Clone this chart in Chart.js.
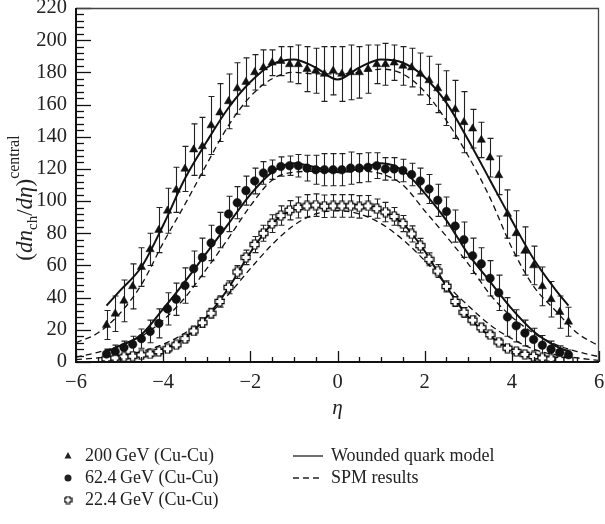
<!DOCTYPE html>
<html>
<head>
<meta charset="utf-8">
<script src="https://cdn.jsdelivr.net/npm/chart.js@4.4.0/dist/chart.umd.min.js"></script>
<style>
html, body { margin: 0; padding: 0; background: #fff; }
</style>
</head>
<body>
<canvas id="chart" width="605" height="524"></canvas>
<script>
// measured points (eta bins of 0.2)
const etaPoints = [-5.3, -5.1, -4.9, -4.7, -4.5, -4.3, -4.1, -3.9, -3.7, -3.5, -3.3, -3.1, -2.9, -2.7, -2.5, -2.3, -2.1, -1.9, -1.7, -1.5, -1.3, -1.1, -0.9, -0.7, -0.5, -0.3, -0.1,
                   0.1, 0.3, 0.5, 0.7, 0.9, 1.1, 1.3, 1.5, 1.7, 1.9, 2.1, 2.3, 2.5, 2.7, 2.9, 3.1, 3.3, 3.5, 3.7, 3.9, 4.1, 4.3, 4.5, 4.7, 4.9, 5.1, 5.3];

const cu200 = [23, 30, 38, 47, 59, 70, 82, 94, 107, 120, 132, 134, 147, 155, 162, 170, 174, 180, 183, 186, 187, 185, 185, 182, 181, 179, 181,
               179, 180, 180, 182, 185, 185, 186, 184, 183, 179, 175, 170, 164, 157, 149, 145, 138, 127, 116, 92, 80, 69, 60, 47, 39, 31, 25];
const err200 = [9, 11, 13, 14, 12, 10, 14, 14, 14, 14, 16, 18, 18, 18, 17, 16, 15, 11, 11, 8, 9, 11, 12, 14, 14, 17, 15,
                17, 17, 16, 15, 12, 13, 11, 12, 12, 13, 15, 15, 17, 18, 19, 12, 11, 12, 12, 15, 14, 15, 12, 12, 11, 10, 9];

const cu624 = [5, 6.5, 9, 11, 14.5, 19, 24, 33, 39, 47.5, 58, 65, 74, 82, 92, 99, 106.5, 112.5, 117.5, 119.5, 121.5, 122, 122, 120.5, 119.5, 119.5, 119.5,
               119.5, 120.5, 120.5, 121, 122, 120, 120, 119, 116.5, 112.5, 107.5, 100.5, 93.5, 84.5, 76, 66, 61, 52, 43, 28, 22.5, 18, 14, 10.5, 8, 6, 4.5];
const err624 = [3, 4, 4, 5, 6, 7, 9, 10, 10, 11, 11, 12, 11, 11, 11, 10, 9, 8, 7, 6, 6, 6, 7, 8, 9, 10, 10,
                10, 10, 9, 9, 8, 7, 7, 7, 7, 8, 9, 10, 9, 10, 11, 11, 10, 11, 11, 12, 10, 8, 7, 6, 5, 4, 3];

const cu224 = [2, 2.5, 3.2, 3.6, 4.4, 5, 6.5, 8.2, 10.7, 14.5, 19.3, 24.4, 30.3, 37.6, 46.4, 56, 65, 73, 80, 86, 91, 94.3, 96, 97, 97.5, 96.8, 97,
               97, 97, 96.4, 97, 95.3, 93.2, 90.5, 86, 79.6, 72.3, 63.8, 56.5, 47, 37.6, 30.9, 26, 21.3, 17, 12.4, 8.6, 6.5, 4.7, 3.4, 2.5, 1.9, 1.5, 1.4];
const err224 = [1, 1, 1, 1, 1.5, 1.5, 1.5, 2, 2, 2.5, 2.5, 3, 3, 3.5, 4, 4, 4.5, 5, 5, 5.5, 6, 6, 6.5, 7, 7, 7, 7,
                7, 7, 7, 6.5, 6, 6, 5.5, 5, 5, 4.5, 4, 4, 3.5, 3, 3, 2.5, 2.5, 2, 2, 1.5, 1.5, 1.5, 1, 1, 1, 1, 1];

// wounded quark model curves
const etaWqm = [-5.3, -5, -4.5, -4, -3.5, -3, -2.5, -2, -1.5, -1, -0.5, 0, 0.5, 1, 1.5, 2, 2.5, 3, 3.5, 4, 4.5, 5, 5.3];
const wqm200 = [35, 44, 59, 85, 114, 137, 158, 174, 185, 188, 183, 175.5, 183, 188, 186, 177, 161, 138, 113, 88, 64, 45, 35];
const wqm624 = [6.5, 10, 17, 33, 50, 68, 86, 104, 118, 123.5, 121, 118, 120, 123.5, 119, 105, 88, 67, 50, 33, 19, 10, 6.5];
const wqm224 = [1.5, 3, 4.5, 8, 15, 28, 46, 68, 86, 95, 97.5, 97, 97.5, 94, 86, 69, 47, 28, 16, 8, 4, 2, 1.5];

// SPM curves
const etaSpm = [-6, -5.5, -5, -4.5, -4, -3.5, -3, -2.5, -2, -1.5, -1, -0.5, 0, 0.5, 1, 1.5, 2, 2.5, 3, 3.5, 4, 4.5, 5, 5.5, 6];
const spm200 = [12, 18, 30, 48, 74, 98, 123, 147, 165, 176, 180, 179, 179, 180, 182, 179, 168, 150, 128, 102, 71, 47, 32, 18, 10];
const spm624 = [3, 6, 10, 16, 26, 40, 58, 77, 97, 113, 118, 118.5, 118, 118.5, 117, 110, 94, 78, 61, 42, 28, 18, 11, 6.5, 3.3];
const spm224 = [1.5, 2.5, 4, 6.5, 11, 18, 28, 42, 58, 73, 85, 92, 94, 92, 86, 76, 63, 48, 35, 23, 14.5, 8, 4.5, 2.5, 1];

const xTicks = [-6, -4, -2, 0, 2, 4, 6];
const yTicks = [0, 20, 40, 60, 80, 100, 120, 140, 160, 180, 200, 220];

const legendMarkers = ['200\u2009GeV (Cu-Cu)', '62.4\u2009GeV (Cu-Cu)', '22.4\u2009GeV (Cu-Cu)'];
const legendLines = ['Wounded quark model', 'SPM results'];

const SERIF = "'Liberation Serif', 'DejaVu Serif', serif";

function pts(xs, ys) {
    return xs.map((x, i) => ({ x: x, y: ys[i] }));
}

// open cross marker
function makeCross(size) {
    const c = document.createElement('canvas');
    c.width = size; c.height = size;
    const g = c.getContext('2d');
    const m = size / 2, a = size * 0.2, b = size / 2 - 1;
    g.beginPath();
    g.moveTo(m - a, m - b); g.lineTo(m + a, m - b); g.lineTo(m + a, m - a);
    g.lineTo(m + b, m - a); g.lineTo(m + b, m + a); g.lineTo(m + a, m + a);
    g.lineTo(m + a, m + b); g.lineTo(m - a, m + b); g.lineTo(m - a, m + a);
    g.lineTo(m - b, m + a); g.lineTo(m - b, m - a); g.lineTo(m - a, m - a);
    g.closePath();
    g.fillStyle = '#fff';
    g.fill();
    g.lineWidth = 1.2;
    g.strokeStyle = '#000';
    g.stroke();
    return c;
}
const crossBig = makeCross(11);
const crossSmall = makeCross(9);

const errorBars = {
    id: 'errorBars',
    beforeDatasetsDraw(chart) {
        const { ctx, chartArea: a, scales: { x, y } } = chart;
        ctx.save();
        ctx.beginPath();
        ctx.rect(a.left, a.top, a.width, a.height);
        ctx.clip();
        ctx.strokeStyle = '#222';
        ctx.lineWidth = 1.1;
        [[cu200, err200], [cu624, err624], [cu224, err224]].forEach(([vals, errs]) => {
            etaPoints.forEach((e, i) => {
                const px = Math.round(x.getPixelForValue(e)) + 0.5;
                const top = y.getPixelForValue(vals[i] + errs[i]);
                const bot = y.getPixelForValue(Math.max(vals[i] - errs[i], 0));
                ctx.beginPath();
                ctx.moveTo(px, top); ctx.lineTo(px, bot);
                ctx.moveTo(px - 3, top); ctx.lineTo(px + 3, top);
                ctx.moveTo(px - 3, bot); ctx.lineTo(px + 3, bot);
                ctx.stroke();
            });
        });
        ctx.restore();
    }
};

const frameAndTicks = {
    id: 'frameAndTicks',
    afterDraw(chart) {
        const { ctx, chartArea: a, scales: { x, y } } = chart;
        ctx.save();
        ctx.strokeStyle = '#111';
        ctx.lineWidth = 1.3;
        for (let v = -6; v <= 6.001; v += 0.5) {
            const px = Math.round(x.getPixelForValue(v)) + 0.5;
            const len = Math.abs(v % 2) < 1e-6 ? 11 : 5;
            ctx.beginPath();
            ctx.moveTo(px, a.bottom); ctx.lineTo(px, a.bottom - len);
            ctx.stroke();
        }
        for (let v = 0; v <= 220; v += 4) {
            const py = Math.round(y.getPixelForValue(v)) + 0.5;
            const len = v % 20 === 0 ? 15 : 8;
            ctx.beginPath();
            ctx.moveTo(a.left, py); ctx.lineTo(a.left + len, py);
            ctx.stroke();
        }
        // box
        ctx.lineWidth = 1.3;
        ctx.strokeStyle = '#444';
        ctx.beginPath();
        ctx.moveTo(a.left, a.top + 0.5); ctx.lineTo(a.right - 0.5, a.top + 0.5); ctx.lineTo(a.right - 0.5, a.bottom);
        ctx.stroke();
        ctx.lineWidth = 2;
        ctx.strokeStyle = '#111';
        ctx.beginPath();
        ctx.moveTo(a.left, a.top); ctx.lineTo(a.left, a.bottom); ctx.lineTo(a.right, a.bottom);
        ctx.stroke();

        // axis titles
        ctx.fillStyle = '#222';
        ctx.textBaseline = 'middle';
        ctx.textAlign = 'center';
        ctx.font = 'italic 21px ' + SERIF;
        ctx.fillText('\u03b7', (a.left + a.right) / 2, 408);

        const parts = [
            ['(', '23px ', 0], ['dn', 'italic 23px ', 0], ['ch', '15px ', 5],
            ['/', '23px ', 0], ['d\u03b7', 'italic 23px ', 0], [')', '23px ', 0],
            ['central', '16px ', -13]
        ];
        let total = 0;
        parts.forEach(p => { ctx.font = p[1] + SERIF; total += ctx.measureText(p[0]).width; });
        ctx.translate(32, 198);
        ctx.rotate(-Math.PI / 2);
        ctx.textAlign = 'left';
        ctx.textBaseline = 'alphabetic';
        let cx = -total / 2;
        parts.forEach(p => {
            ctx.font = p[1] + SERIF;
            ctx.fillText(p[0], cx, p[2]);
            cx += ctx.measureText(p[0]).width;
        });
        ctx.restore();

        // legend
        ctx.save();
        ctx.fillStyle = '#222';
        ctx.strokeStyle = '#222';
        ctx.font = '18px ' + SERIF;
        ctx.textBaseline = 'middle';
        ctx.textAlign = 'left';
        const rows = [456, 478, 500];
        legendMarkers.forEach((t, i) => ctx.fillText(t, 85, rows[i]));
        legendLines.forEach((t, i) => ctx.fillText(t, 331, rows[i]));
        // markers
        ctx.beginPath();
        ctx.moveTo(68, rows[0] - 4); ctx.lineTo(71.5, rows[0] + 2.5); ctx.lineTo(64.5, rows[0] + 2.5);
        ctx.closePath(); ctx.fill();
        ctx.beginPath();
        ctx.arc(68, rows[1], 3.5, 0, Math.PI * 2); ctx.fill();
        ctx.drawImage(crossSmall, 68 - 4.5, rows[2] - 4.5);
        // line samples
        ctx.lineWidth = 1.3;
        ctx.beginPath(); ctx.moveTo(293, rows[0]); ctx.lineTo(323, rows[0]); ctx.stroke();
        ctx.setLineDash([6, 4]);
        ctx.beginPath(); ctx.moveTo(293, rows[1]); ctx.lineTo(323, rows[1]); ctx.stroke();
        ctx.restore();
    }
};

function markerSet(label, xs, ys, style, radius) {
    return {
        label: label, data: pts(xs, ys), showLine: false,
        pointStyle: style, pointRadius: radius, pointHoverRadius: radius,
        backgroundColor: '#111', borderColor: '#111', borderWidth: 0.5
    };
}
function curveSet(label, xs, ys, dash) {
    return {
        label: label, data: pts(xs, ys), showLine: true,
        pointRadius: 0, borderColor: '#111', borderWidth: dash ? 1.3 : 2,
        borderDash: dash ? [6, 4] : [], cubicInterpolationMode: 'monotone', fill: false
    };
}

const chart = new Chart(document.getElementById('chart'), {
    type: 'line',
    data: {
        datasets: [
            markerSet('200 GeV (Cu-Cu)', etaPoints, cu200, 'triangle', 4.8),
            markerSet('62.4 GeV (Cu-Cu)', etaPoints, cu624, 'circle', 4.3),
            markerSet('22.4 GeV (Cu-Cu)', etaPoints, cu224, crossBig, 5.5),
            curveSet('WQM 200', etaWqm, wqm200, false),
            curveSet('WQM 62.4', etaWqm, wqm624, false),
            curveSet('WQM 22.4', etaWqm, wqm224, false),
            curveSet('SPM 200', etaSpm, spm200, true),
            curveSet('SPM 62.4', etaSpm, spm624, true),
            curveSet('SPM 22.4', etaSpm, spm224, true)
        ]
    },
    options: {
        responsive: false,
        animation: false,
        devicePixelRatio: 1,
        layout: { padding: { left: 0, top: 8, right: 1, bottom: 0 } },
        plugins: { legend: { display: false }, tooltip: { enabled: false } },
        scales: {
            x: {
                type: 'linear', min: -6, max: 6,
                grid: { display: false, drawTicks: false },
                border: { display: false },
                afterBuildTicks: s => { s.ticks = xTicks.map(v => ({ value: v })); },
                ticks: {
                    padding: 8, color: '#222', maxRotation: 0,
                    font: { family: SERIF, size: 20.5 },
                    callback: v => (v < 0 ? '\u2212' + Math.abs(v) : String(v))
                },
                afterFit: s => { s.height = 162; s.paddingLeft = 0; s.paddingRight = 0; }
            },
            y: {
                min: 0, max: 220,
                grid: { display: false, drawTicks: false },
                border: { display: false },
                afterBuildTicks: s => { s.ticks = yTicks.map(v => ({ value: v })); },
                ticks: { padding: 9, color: '#222', font: { family: SERIF, size: 20.5 } },
                afterFit: s => { s.width = 76; s.paddingTop = 0; s.paddingBottom = 0; }
            }
        }
    },
    plugins: [errorBars, frameAndTicks]
});
</script>
</body>
</html>
